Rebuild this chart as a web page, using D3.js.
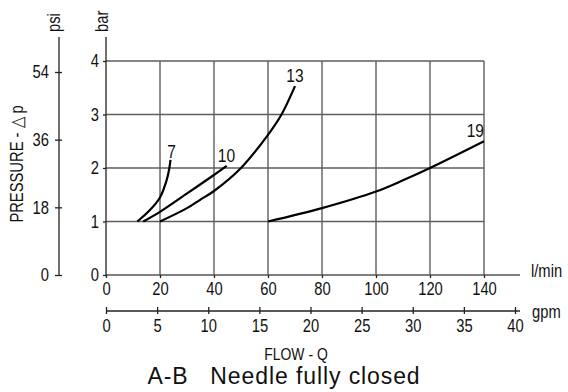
<!DOCTYPE html>
<html>
<head>
<meta charset="utf-8">
<script src="https://cdn.jsdelivr.net/npm/d3@7"></script>
<style>
  body { margin: 0; background: #fff; }
  svg text { font-family: "Liberation Sans", Arial, sans-serif; fill: #111; }
</style>
</head>
<body>
<figure id="chart" style="margin:0"></figure>
<script>
// pressure drop curves, flow in l/min, pressure in bar
const curve7 = [[11.6, 1], [16, 1.2], [20, 1.45], [22.5, 1.78], [23.4, 1.98], [23.9, 2.15]];
const curve10 = [[13.8, 1], [20, 1.18], [29.9, 1.52], [39.7, 1.86], [44.7, 2.04]];
const curve13 = [[20, 1], [30, 1.25], [35, 1.41], [40, 1.57], [50, 2.0], [60, 2.62], [65, 3.0], [70, 3.53]];
const curve19 = [[60, 1], [80, 1.25], [100, 1.56], [110, 1.77], [120, 2.0], [140, 2.5]];
const curveNames = ['7', '10', '13', '19'];

const lminTicks = [0, 20, 40, 60, 80, 100, 120, 140];
const gpmTicks = [0, 5, 10, 15, 20, 25, 30, 35, 40];
const barTicks = [0, 1, 2, 3, 4];
const psiTicks = [0, 18, 36, 54];

const width = 568, height = 392;
const narrow = 0.82; // squeeze Liberation Sans to look like Arial Narrow

const svg = d3.select('figure#chart')
    .append('svg')
    .attr('width', width)
    .attr('height', height);

const x = d3.scaleLinear().domain([0, 140]).range([106, 484]);
const y = d3.scaleLinear().domain([0, 4]).range([275, 61]);
const yPsi = d3.scaleLinear().domain([0, 54]).range([275, 72]);
const xGpm = d3.scaleLinear().domain([0, 40]).range([106, 515]);

// narrow text placed at (tx, ty), optional rotation
function addText(str, tx, ty, size, anchor, rot) {
    return svg.append('text')
        .text(str)
        .attr('font-size', size)
        .attr('text-anchor', anchor || 'start')
        .attr('transform', `translate(${tx},${ty})` + (rot ? ` rotate(${rot})` : '') + ` scale(${narrow},1)`);
}

// grid
const grid = svg.append('g').attr('stroke', '#5e5e5e').attr('stroke-width', 1.4);
grid.selectAll('line.h')
    .data(barTicks.slice(1))
    .enter()
    .append('line')
    .attr('x1', x(0)).attr('x2', x(140))
    .attr('y1', (d) => y(d)).attr('y2', (d) => y(d));
grid.selectAll('line.v')
    .data(lminTicks.slice(1))
    .enter()
    .append('line')
    .attr('x1', (d) => x(d)).attr('x2', (d) => x(d))
    .attr('y1', y(0)).attr('y2', y(4));

// axis lines
svg.append('line').attr('x1', x(0)).attr('x2', 520).attr('y1', y(0)).attr('y2', y(0)).attr('stroke', '#555').attr('stroke-width', 1.4);
svg.append('line').attr('x1', x(0)).attr('x2', x(0)).attr('y1', y(0)).attr('y2', 37).attr('stroke', '#222').attr('stroke-width', 1.3);
svg.append('line').attr('x1', 59).attr('x2', 59).attr('y1', y(0)).attr('y2', 37).attr('stroke', '#222').attr('stroke-width', 1.3);
svg.append('line').attr('x1', xGpm(0)).attr('x2', 520).attr('y1', 311).attr('y2', 311).attr('stroke', '#222').attr('stroke-width', 1.3);

// bar axis
svg.append('g')
    .attr('transform', 'translate(' + x(0) + ',0)')
    .call(d3.axisLeft(y).tickValues(barTicks).tickFormat(d3.format('d')).tickSize(3).tickPadding(4));
// psi axis
const psiAxis = svg.append('g')
    .attr('transform', 'translate(59,0)')
    .call(d3.axisLeft(yPsi).tickValues(psiTicks).tickFormat(d3.format('d')).tickSize(4).tickPadding(6));
psiAxis.selectAll('.tick line').attr('x2', 3).attr('x1', -4);
// l/min axis
svg.append('g')
    .attr('transform', 'translate(0,' + y(0) + ')')
    .call(d3.axisBottom(x).tickValues(lminTicks).tickFormat(d3.format('d')).tickSize(3).tickPadding(4));
// gpm axis
const gpmAxis = svg.append('g')
    .attr('transform', 'translate(0,311)')
    .call(d3.axisBottom(xGpm).tickValues(gpmTicks).tickFormat(d3.format('d')).tickSize(3).tickPadding(5));
gpmAxis.selectAll('.tick line').attr('y1', -4).attr('y2', 3);

svg.selectAll('.domain').remove();
svg.selectAll('.tick line').attr('stroke', '#222').attr('stroke-width', 1.3);
svg.selectAll('.tick text')
    .attr('font-size', 18)
    .attr('fill', '#111')
    .style('font-family', '"Liberation Sans", Arial, sans-serif')
    .attr('transform', `scale(${narrow},1)`)
    .attr('x', function () { return (+d3.select(this).attr('x') || 0) / narrow; });

// curves
const line = d3.line()
    .x((d) => x(d[0]))
    .y((d) => y(d[1]))
    .curve(d3.curveCatmullRom.alpha(0.5));
const curves = [curve7, curve10, curve13, curve19];
svg.append('g').selectAll('path')
    .data(curves)
    .enter()
    .append('path')
    .attr('d', line)
    .attr('fill', 'none')
    .attr('stroke', '#000')
    .attr('stroke-width', 2.2);

// curve labels (l/min, bar of the label baseline)
const labelPos = [[24.3, 2.19], [44.6, 2.11], [70, 3.6], [136.8, 2.58]];
curveNames.forEach((name, i) => {
    addText(name, x(labelPos[i][0]), y(labelPos[i][1]), 19, 'middle');
});

// unit labels
addText('psi', 60, 32, 18, 'start', -90);
addText('bar', 108, 32, 18, 'start', -90);
addText('l/min', 531, 277, 18);
addText('gpm', 532, 318, 18);

addText('PRESSURE - \u25B3 p', 23, 164, 18, 'middle', -90);
addText('FLOW - Q', 296, 360, 17, 'middle');

svg.append('text').text('A-B\u00A0\u00A0\u00A0Needle fully closed')
    .attr('font-size', 23)
    .attr('letter-spacing', 0.9)
    .attr('fill', '#333')
    .attr('text-anchor', 'middle')
    .attr('x', 284).attr('y', 384);
</script>
</body>
</html>
